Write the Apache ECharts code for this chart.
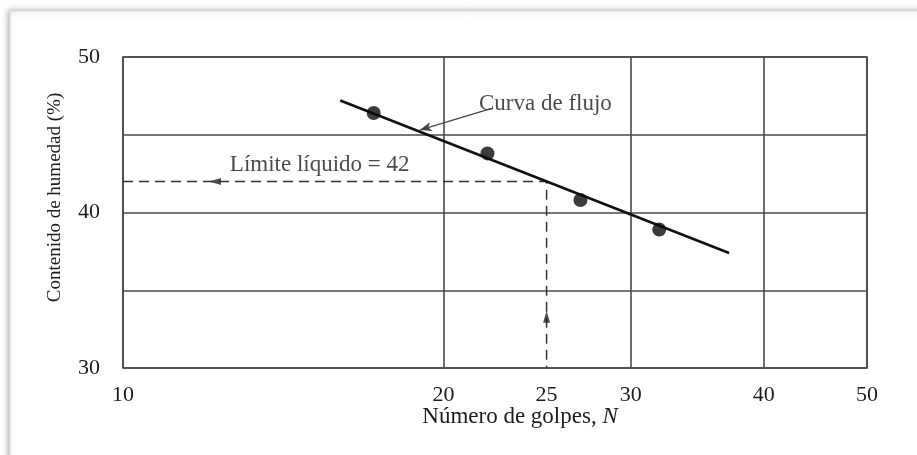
<!DOCTYPE html>
<html>
<head>
<meta charset="utf-8">
<script src="https://cdn.jsdelivr.net/npm/echarts@6/dist/echarts.min.js"></script>
<style>
  html, body { margin: 0; padding: 0; background: #fff; }
  #chart { width: 917px; height: 455px; }
</style>
</head>
<body>
<div id="chart"></div>
<script>
// datos
const blowsN = [17.2, 22.0, 26.9, 31.9]
const moisture = [46.4, 43.8, 40.8, 38.9]
const flowCurveN = [16.0, 37.1]
const flowCurveW = [47.2, 37.4]
const limitN = 25
const liquidLimit = 42

const xTickLabels = [10, 20, 25, 30, 40, 50]
const xGridValues = [10, 20, 30, 40, 50]
const yTickLabels = [30, 40, 50]

// anotaciones (en coordenadas de datos)
const arrowN = [12.2, limitN]
const arrowW = [liquidLimit, 33.3]
const flowArrowN = [22.2, 19.0]
const flowArrowW = [46.7, 45.3]
const flowText = 'Curva de flujo'
const limitText = 'Límite líquido = 42'

const serif = '"Liberation Serif", "DejaVu Serif", serif'
const ink = '#1c1c1c'
const gridColor = '#4a4a4a'

const chart = echarts.init(document.getElementById('chart'), null, { renderer: 'canvas' })

const option = {
    backgroundColor: '#fff',
    animation: false,
    textStyle: { fontFamily: serif, color: ink },
    graphic: [{
        // marco con sombra de la captura
        type: 'rect',
        shape: { x: 10, y: 11, width: 1000, height: 1000 },
        style: {
            fill: '#fff',
            stroke: '#dcdcdc',
            lineWidth: 1,
            shadowColor: 'rgba(0,0,0,0.35)',
            shadowBlur: 6,
            shadowOffsetX: -1
        },
        z: -10
    }],
    grid: {
        left: 123,
        right: 50,
        top: 57,
        bottom: 87,
        show: true,
        borderColor: gridColor,
        borderWidth: 1.6,
        z: 1
    },
    xAxis: {
        type: 'log',
        logBase: 10,
        min: 10,
        max: 50,
        name: 'Número de golpes, {i|N}',
        nameLocation: 'middle',
        nameGap: 37,
        nameMoveOverlap: false,
        nameTextStyle: {
            fontFamily: serif,
            fontSize: 23,
            color: ink,
            padding: [0, 0, 0, 50],
            rich: { i: { fontStyle: 'italic', fontFamily: serif, fontSize: 23, color: ink } }
        },
        axisLine: { show: false },
        axisTick: { show: false, customValues: xGridValues },
        axisLabel: {
            customValues: xTickLabels,
            margin: 16,
            fontFamily: serif,
            fontSize: 22,
            color: ink
        },
        splitLine: { show: true, lineStyle: { color: gridColor, width: 1.6 } },
        minorSplitLine: { show: false }
    },
    yAxis: {
        type: 'value',
        min: 30,
        max: 50,
        interval: 5,
        name: 'Contenido de humedad (%)',
        nameLocation: 'middle',
        nameGap: 58,
        nameTextStyle: {
            fontFamily: serif,
            fontSize: 19,
            color: ink,
            padding: [0, 0, 0, 30]
        },
        axisLine: { show: false },
        axisTick: { show: false },
        axisLabel: {
            customValues: yTickLabels,
            margin: 23,
            fontFamily: serif,
            fontSize: 22,
            color: ink
        },
        splitLine: { show: true, lineStyle: { color: gridColor, width: 1.6 } }
    },
    series: [
        {
            name: 'curva',
            type: 'line',
            data: flowCurveN.map((n, i) => [n, flowCurveW[i]]),
            showSymbol: false,
            lineStyle: { color: '#111', width: 2.6 },
            z: 5,
            markLine: {
                silent: true,
                symbol: ['none', 'arrow'],
                symbolSize: [7, 12],
                lineStyle: { color: '#444', width: 1.2, type: 'solid' },
                label: { show: false },
                data: [[
                    { coord: [flowArrowN[0], flowArrowW[0]] },
                    { coord: [flowArrowN[1], flowArrowW[1]] }
                ]]
            }
        },
        {
            name: 'ensayos',
            type: 'scatter',
            data: blowsN.map((n, i) => [n, moisture[i]]),
            symbol: 'circle',
            symbolSize: 14,
            itemStyle: { color: '#0a0a0a' },
            z: 6
        },
        {
            name: 'limite',
            type: 'line',
            data: [[10, liquidLimit], [limitN, liquidLimit], [limitN, 30]],
            showSymbol: false,
            lineStyle: { color: '#333', width: 1.5, type: [10, 6] },
            z: 4
        },
        {
            name: 'flechas',
            type: 'scatter',
            data: [
                { value: [arrowN[0], arrowW[0]], symbolRotate: 90 },
                { value: [arrowN[1], arrowW[1]], symbolRotate: 0 }
            ],
            symbol: 'triangle',
            symbolSize: [7, 12],
            itemStyle: { color: '#222' },
            z: 6
        },
        {
            name: 'textos',
            type: 'scatter',
            symbolSize: 0,
            data: [
                { value: [21.6, 47.0], label: { formatter: flowText } },
                { value: [12.6, 43.05], label: { formatter: limitText } }
            ],
            label: {
                show: true,
                position: 'right',
                distance: 0,
                fontFamily: serif,
                fontSize: 23,
                color: ink
            },
            z: 7
        }
    ]
}

chart.setOption(option)
</script>
</body>
</html>
